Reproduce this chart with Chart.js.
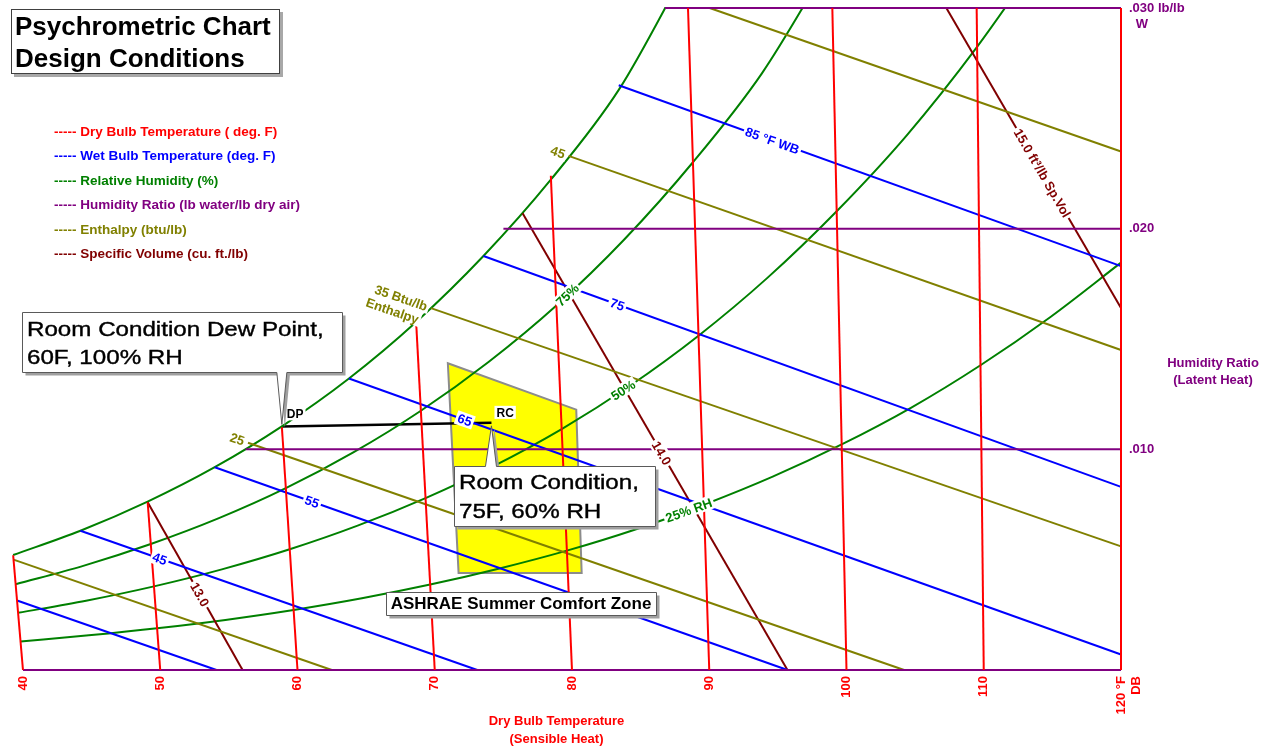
<!DOCTYPE html>
<html>
<head>
<meta charset="utf-8">
<title>Psychrometric Chart</title>
<script src="https://cdn.jsdelivr.net/npm/chart.js@4.4.1/dist/chart.umd.min.js"></script>
<style>
  body { margin: 0; background: #fff; }
  #wrap { position: relative; width: 1267px; height: 747px; }
  #psychro { position: absolute; left: 0; top: 0; }
  .title-box { position: absolute; left: 11px; top: 9px; width: 264px; height: 63px; padding-left: 3px;
    border: 1px solid #404040; box-shadow: 3px 3px 0 #a8a8a8; background: #fff; color: #000;
    font: bold 26px "Liberation Sans", Arial, sans-serif; line-height: 32px; }
  .legend div { position: absolute; left: 54px; white-space: nowrap;
    font: bold 13.5px "Liberation Sans", Arial, sans-serif; }
</style>
</head>
<body>
<div id="wrap">
  <canvas id="psychro" width="1267" height="747"></canvas>
  <div class="title-box">Psychrometric Chart<br>Design Conditions</div>
  <div class="legend" id="legend"></div>
</div>
<script>
// ---- values (temperatures in °F, humidity ratio in lb/lb) ----
const dryBulbTemps = [40, 50, 60, 70, 80, 90, 100, 110, 120];
const dryBulbTopW  = [0.0052, 0.0076, 0.0110, 0.0158, 0.0224, 0.030, 0.030, 0.030, 0.030];
const dryBulbTicks = ['40', '50', '60', '70', '80', '90', '100', '110', ['120 °F', 'DB']];

// relative humidity curves, sampled every 5 °F
const rhTemps = [40, 45, 50, 55, 60, 65, 70, 75, 80, 85, 90, 95, 100, 105, 110, 115, 120];
const rh100 = [0.00521, 0.00631, 0.00763, 0.00919, 0.01104, 0.01321, 0.01577, 0.01876, 0.02223, 0.02630, 0.03180];
const rh75  = [0.00389, 0.00472, 0.00571, 0.00687, 0.00824, 0.00986, 0.01175, 0.01396, 0.01652, 0.01952, 0.02301, 0.02704, 0.03220];
const rh50  = [0.00259, 0.00314, 0.00379, 0.00456, 0.00547, 0.00654, 0.00779, 0.00924, 0.01092, 0.01288, 0.01515, 0.01777, 0.02079, 0.02422, 0.02824, 0.03284];
const rh25  = [0.00129, 0.00157, 0.00189, 0.00227, 0.00272, 0.00325, 0.00387, 0.00459, 0.00541, 0.00637, 0.00749, 0.00876, 0.01022, 0.01188, 0.01381, 0.01600, 0.01846];

const humRatios = [0, 0.010, 0.020, 0.030];
const humRatioStartT = [40, 57.3, 76.5, 88.4];
const humRatioTicks = ['.010', '.020', '.030 lb/lb'];

const wetBulbTemps = [35, 45, 55, 65, 75, 85];
const wbStartT = [40, 45, 55, 65, 75, 85];
const wbStartW = [0.00315, 0.00631, 0.00919, 0.01321, 0.01876, 0.0265];
const wbEndT   = [54.1, 73.1, 95.7, 120, 120, 120];
const wbEndW   = [0, 0, 0, 0.0007, 0.0083, 0.0183];

const enthalpyLevels = [15, 25, 35, 45, 55];   // btu/lb
const hStartT = [40, 57.5, 71.1, 81.3, 91.5];
const hStartW = [0.0050, 0.0103, 0.0164, 0.0233, 0.0300];
const hEndT   = [62.5, 104.2, 120, 120, 120];
const hEndW   = [0, 0, 0.0056, 0.0145, 0.0235];

const specVolLevels = [13.0, 14.0, 15.0];     // cu. ft./lb
const vStartT = [50.0, 77.9, 107.9];
const vStartW = [0.0076, 0.0207, 0.0300];
const vEndT   = [56.0, 95.7, 120];
const vEndW   = [0, 0, 0.0164];

// ASHRAE summer comfort zone corners
const zoneT = [72.1, 81.1, 81.0, 72.1];
const zoneW = [0.0139, 0.0118, 0.0044, 0.0044];

const dewPoint = [60, 0.01104];   // 60F, 100% RH
const roomCond = [75, 0.0112];    // 75F, 60% RH

// labels along lines: [line index, text, position]
const wbLabels = [[1, '45', 0.20], [2, '55', 0.17], [3, '65', 0.15], [4, '75', 0.21], [5, '85 °F WB', 0.306]];
const rhLabels = [[1, '75%', 80.8], [2, '50%', 84.5], [3, '25% RH', 88.9]];
const hLabels  = [[1, ['25']], [2, ['35 Btu/lb', 'Enthalpy']], [3, ['45']]];
const svLabels = [[0, '13.0', 0.55], [1, '14.0', 0.525], [2, '15.0 ft³/lb Sp.Vol', 0.55]];

const RED = '#ff0000', BLUE = '#0000ff', GREEN = '#008000', PURPLE = '#800080', OLIVE = '#808000', MAROON = '#800000';
const FONT = '"Liberation Sans", Arial, sans-serif';

const legendItems = [
  ['Dry Bulb Temperature ( deg. F)', RED],
  ['Wet Bulb Temperature (deg. F)', BLUE],
  ['Relative Humidity (%)', GREEN],
  ['Humidity Ratio (lb water/lb dry air)', PURPLE],
  ['Enthalpy (btu/lb)', OLIVE],
  ['Specific Volume (cu. ft./lb)', MAROON]
];
const legendEl = document.getElementById('legend');
legendItems.forEach(([text, color], i) => {
  const row = document.createElement('div');
  row.style.top = Math.round(124 + i * 24.4) + 'px';
  row.style.color = color;
  row.textContent = '----- ' + text;
  legendEl.appendChild(row);
});

// dry bulb lines lean left as humidity rises (vertical at 120 °F)
const SKEW = 1.72;
const chartX = (t, w) => t - SKEW * w * (120 - t);
const pt = (t, w) => ({ x: chartX(t, w), y: w });

const rhCurves = [rh100, rh75, rh50, rh25];
function rhAt(vals, t) {
  const k = Math.min(Math.floor((t - 40) / 5), vals.length - 2);
  const f = (t - rhTemps[k]) / 5;
  return vals[k] + (vals[k + 1] - vals[k]) * f;
}

function line(points, color, width) {
  return { data: points, borderColor: color, borderWidth: width || 2, showLine: true,
           pointRadius: 0, fill: false, clip: { left: 2, top: 1, right: 2, bottom: 2 } };
}

const datasets = [];
dryBulbTemps.forEach((t, i) => datasets.push(line([pt(t, 0), pt(t, dryBulbTopW[i])], RED)));
humRatios.forEach((w, i) => datasets.push(line([pt(humRatioStartT[i], w), pt(120, w)], PURPLE)));
enthalpyLevels.forEach((h, i) => datasets.push(line([pt(hStartT[i], hStartW[i]), pt(hEndT[i], hEndW[i])], OLIVE)));
wetBulbTemps.forEach((wb, i) => datasets.push(line([pt(wbStartT[i], wbStartW[i]), pt(wbEndT[i], wbEndW[i])], BLUE)));
specVolLevels.forEach((v, i) => datasets.push(line([pt(vStartT[i], vStartW[i]), pt(vEndT[i], vEndW[i])], MAROON)));
rhCurves.forEach(vals => {
  const ds = line(vals.map((w, i) => pt(rhTemps[i], w)), GREEN);
  ds.cubicInterpolationMode = 'monotone';
  datasets.push(ds);
});
datasets.push(line([pt(...dewPoint), pt(...roomCond)], '#000', 2.5));

// text drawn rotated along a line, on a white patch
function tag(ctx, text, cx, cy, ang, color, font) {
  ctx.save();
  ctx.translate(cx, cy);
  ctx.rotate(ang);
  ctx.font = font;
  const w = ctx.measureText(text).width;
  ctx.fillStyle = '#fff';
  ctx.fillRect(-w / 2 - 2, -7, w + 4, 14);
  ctx.fillStyle = color;
  ctx.textAlign = 'center';
  ctx.textBaseline = 'middle';
  ctx.fillText(text, 0, 1);
  ctx.restore();
}
function tagAlong(ctx, text, a, b, f, color, font) {
  tag(ctx, text, a.x + (b.x - a.x) * f, a.y + (b.y - a.y) * f, Math.atan2(b.y - a.y, b.x - a.x), color, font);
}

function callout(ctx, l, t, w, h, n) {
  l = Math.round(l) + 0.5; t = Math.round(t) + 0.5;
  ctx.save();
  ctx.beginPath();
  ctx.moveTo(l, t);
  if (n.edge === 'top') { ctx.lineTo(n.x0, t); ctx.lineTo(n.tx, n.ty); ctx.lineTo(n.x1, t); }
  ctx.lineTo(l + w, t);
  ctx.lineTo(l + w, t + h);
  if (n.edge === 'bottom') { ctx.lineTo(n.x1, t + h); ctx.lineTo(n.tx, n.ty); ctx.lineTo(n.x0, t + h); }
  ctx.lineTo(l, t + h);
  ctx.closePath();
  ctx.shadowColor = '#a0a0a0'; ctx.shadowOffsetX = 3; ctx.shadowOffsetY = 3; ctx.shadowBlur = 0;
  ctx.fillStyle = '#fff';
  ctx.fill();
  ctx.shadowColor = 'transparent';
  ctx.strokeStyle = '#5a5a5a';
  ctx.lineWidth = 1;
  ctx.stroke();
  ctx.restore();
}
function wideText(ctx, s, x, y, font, sx) {
  ctx.save();
  ctx.translate(x, y);
  ctx.scale(sx, 1);
  ctx.font = font;
  ctx.fillStyle = '#000';
  ctx.strokeStyle = '#000';
  ctx.lineWidth = 0.4;
  ctx.textAlign = 'left';
  ctx.textBaseline = 'alphabetic';
  ctx.fillText(s, 0, 0);
  ctx.strokeText(s, 0, 0);
  ctx.restore();
}

const overlay = {
  id: 'overlay',
  beforeDatasetsDraw(chart) {
    const { ctx, scales: { x, y } } = chart;
    ctx.save();
    ctx.beginPath();
    zoneT.forEach((t, i) => {
      const px = x.getPixelForValue(chartX(t, zoneW[i])), py = y.getPixelForValue(zoneW[i]);
      if (i) ctx.lineTo(px, py); else ctx.moveTo(px, py);
    });
    ctx.closePath();
    ctx.fillStyle = '#ffff00';
    ctx.fill();
    ctx.strokeStyle = '#8c8c8c';
    ctx.lineWidth = 2;
    ctx.stroke();
    ctx.restore();
  },
  afterDraw(chart) {
    const { ctx, chartArea: area, scales: { x, y } } = chart;
    const P = (t, w) => ({ x: x.getPixelForValue(chartX(t, w)), y: y.getPixelForValue(w) });
    const bold = s => `bold ${s}px ${FONT}`;

    wbLabels.forEach(([i, text, f]) =>
      tagAlong(ctx, text, P(wbStartT[i], wbStartW[i]), P(wbEndT[i], wbEndW[i]), f, BLUE, bold(13)));

    rhLabels.forEach(([i, text, t]) => {
      const vals = rhCurves[i];
      const a = P(t - 1, rhAt(vals, t - 1)), b = P(t + 1, rhAt(vals, t + 1)), c = P(t, rhAt(vals, t));
      tag(ctx, text, c.x, c.y, Math.atan2(b.y - a.y, b.x - a.x), GREEN, bold(13));
    });

    svLabels.forEach(([i, text, f]) =>
      tagAlong(ctx, text, P(vStartT[i], vStartW[i]), P(vEndT[i], vEndW[i]), f, MAROON, bold(13)));

    hLabels.forEach(([i, lines]) => {
      const a = P(hStartT[i], hStartW[i]), b = P(hEndT[i], hEndW[i]);
      ctx.save();
      ctx.translate(a.x, a.y);
      ctx.rotate(Math.atan2(b.y - a.y, b.x - a.x));
      ctx.font = bold(13);
      ctx.textAlign = 'right';
      ctx.textBaseline = 'middle';
      lines.forEach((s, k) => {
        const w = ctx.measureText(s).width, rx = -4 - k * 4, ry = k * 15;
        ctx.fillStyle = '#fff';
        ctx.fillRect(rx - w - 2, ry - 7, w + 4, 14);
        ctx.fillStyle = OLIVE;
        ctx.fillText(s, rx, ry + 1);
      });
      ctx.restore();
    });

    // design points
    const d = P(...dewPoint), r = P(...roomCond);
    ctx.save();
    ctx.font = bold(12);
    ctx.textBaseline = 'alphabetic';
    [['DP', d, -8], ['RC', r, -6]].forEach(([s, p, dy]) => {
      const w = ctx.measureText(s).width;
      ctx.fillStyle = '#fff';
      ctx.fillRect(p.x + 3, p.y + dy - 11, w + 4, 13);
      ctx.fillStyle = '#000';
      ctx.fillText(s, p.x + 5, p.y + dy);
    });
    ctx.restore();

    const big = `21px ${FONT}`;
    callout(ctx, d.x - 260, d.y - 114, 320, 60, { edge: 'bottom', x0: d.x - 5, x1: d.x + 5, tx: d.x, ty: d.y - 2 });
    wideText(ctx, 'Room Condition Dew Point,', Math.round(d.x) - 255, Math.round(d.y) - 90, big, 1.15);
    wideText(ctx, '60F, 100% RH', Math.round(d.x) - 255, Math.round(d.y) - 62, big, 1.15);

    callout(ctx, r.x - 37, r.y + 43, 201, 60, { edge: 'top', x0: r.x - 6, x1: r.x + 5, tx: r.x, ty: r.y + 3 });
    wideText(ctx, 'Room Condition,', Math.round(r.x) - 32, Math.round(r.y) + 66, big, 1.15);
    wideText(ctx, '75F, 60% RH', Math.round(r.x) - 32, Math.round(r.y) + 95, big, 1.15);

    const z = P(zoneT[2], zoneW[2]);
    callout(ctx, z.x - 196, z.y + 19, 270, 23, { edge: 'none' });
    ctx.save();
    ctx.font = bold(17);
    ctx.fillStyle = '#000';
    ctx.textAlign = 'center';
    ctx.textBaseline = 'alphabetic';
    ctx.fillText('ASHRAE Summer Comfort Zone', Math.round(z.x) - 61, Math.round(z.y) + 36);
    ctx.restore();

    // axis titles
    ctx.save();
    ctx.font = bold(13);
    ctx.textAlign = 'center';
    ctx.textBaseline = 'middle';
    ctx.fillStyle = RED;
    const cx = (area.left + area.right) / 2 - 10;
    ctx.fillText('Dry Bulb Temperature', cx, area.bottom + 51);
    ctx.fillText('(Sensible Heat)', cx, area.bottom + 69);
    ctx.fillStyle = PURPLE;
    ctx.fillText('Humidity Ratio', area.right + 92, 363);
    ctx.fillText('(Latent Heat)', area.right + 92, 380);
    ctx.fillText('W', area.right + 21, area.top + 16);
    ctx.restore();
  }
};

new Chart(document.getElementById('psychro').getContext('2d'), {
  type: 'scatter',
  data: { datasets: datasets },
  options: {
    responsive: false,
    animation: false,
    events: [],
    layout: { padding: { left: 12, top: 8, right: 0, bottom: 0 } },
    plugins: { legend: { display: false }, tooltip: { enabled: false } },
    scales: {
      x: {
        type: 'linear', min: 39.2, max: 120,
        afterBuildTicks: s => { s.ticks = dryBulbTemps.map(v => ({ value: v })); },
        afterFit: s => { s.height = 77; s.paddingLeft = 0; s.paddingRight = 0; },
        grid: { display: false, drawTicks: false },
        border: { display: false },
        ticks: {
          autoSkip: false, minRotation: 90, maxRotation: 90, padding: 6, color: RED,
          font: { family: FONT, size: 13, weight: 'bold' },
          callback: (v, i) => dryBulbTicks[i]
        }
      },
      y: {
        type: 'linear', position: 'right', min: 0, max: 0.030,
        afterBuildTicks: s => { s.ticks = humRatios.slice(1).map(v => ({ value: v })); },
        afterFit: s => { s.width = 146; s.paddingTop = 0; s.paddingBottom = 0; },
        grid: { display: false, drawTicks: false },
        border: { display: false },
        ticks: {
          padding: 8, color: PURPLE,
          font: { family: FONT, size: 13, weight: 'bold' },
          callback: (v, i) => humRatioTicks[i]
        }
      }
    }
  },
  plugins: [overlay]
});
</script>
</body>
</html>
